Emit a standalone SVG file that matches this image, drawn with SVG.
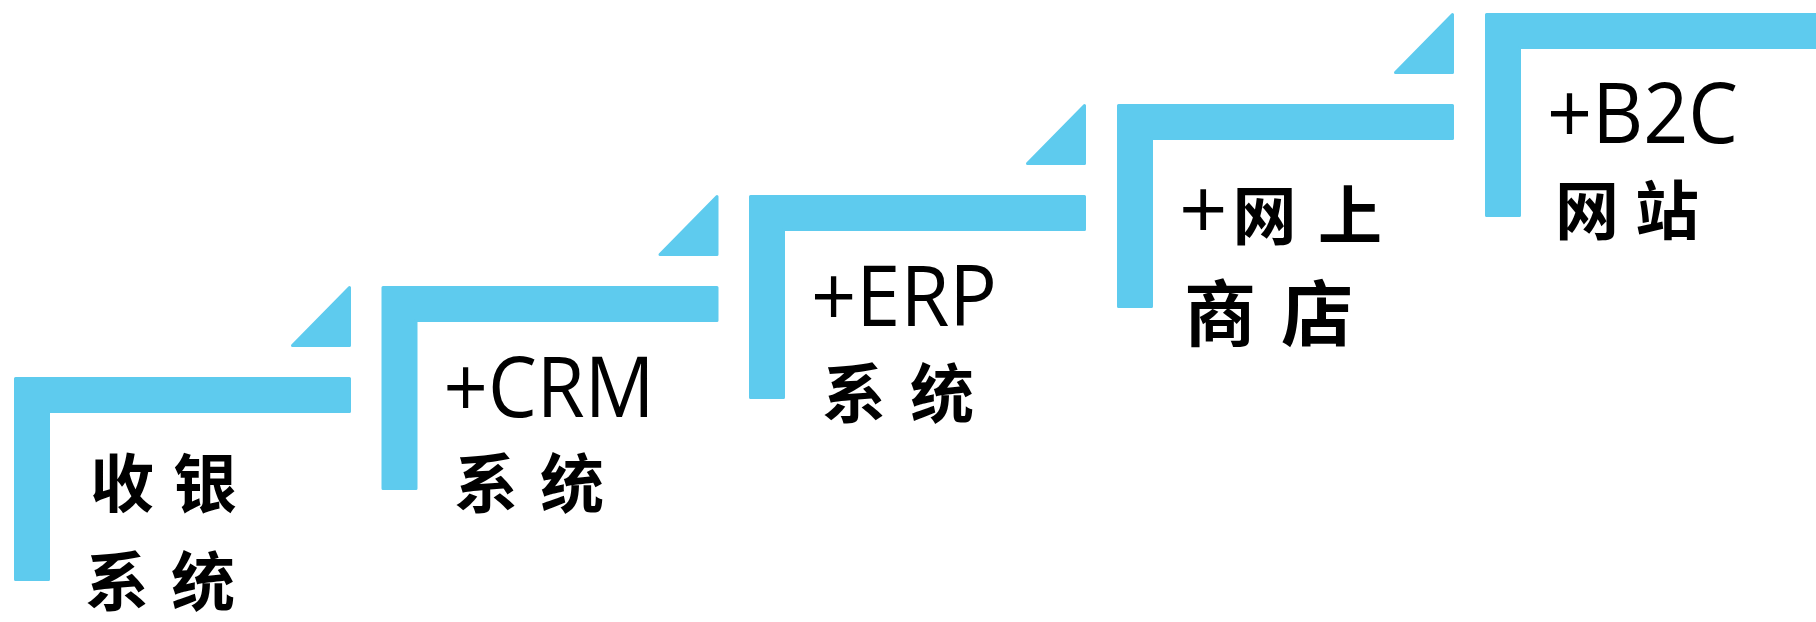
<svg xmlns="http://www.w3.org/2000/svg" width="1816" height="622" viewBox="0 0 1816 622">
  <style>
    .bar { fill: #5ECBEE; stroke: #5ECBEE; stroke-width: 3; stroke-linejoin: round; }
    .lat { font-family: "Open Sans", "Noto Sans", "Liberation Sans", sans-serif; font-size: 85px; fill: #000; }
    .cjk { font-family: "Noto Sans CJK SC", "Noto Sans CJK TC", sans-serif; font-size: 64px; font-weight: 700; fill: #000; }
  </style>
  <defs>
    <path id="stair" d="M1.5,1.5 H335.5 V34.5 H34.5 V202.5 H1.5 Z"/>
    <path id="flag" d="M278.5,-31.5 L335.5,-89.5 V-31.5 Z"/>
  </defs>
  <rect width="1816" height="622" fill="#ffffff"/>
  <g id="connectors"/>

  <g id="step1" transform="translate(14,377)">
    <use href="#stair" class="bar"/>
    <use href="#flag" class="bar"/>
    <text class="cjk" x="76 159" y="130">收银</text>
    <text class="cjk" x="71 157" y="228">系统</text>
  </g>

  <g id="step2" transform="translate(381.5,286)">
    <use href="#stair" class="bar"/>
    <use href="#flag" class="bar"/>
    <text class="lat" x="62" y="131" textLength="211" lengthAdjust="spacingAndGlyphs">+CRM</text>
    <text class="cjk" x="72.5 158.5" y="221">系统</text>
  </g>

  <g id="step3" transform="translate(749,195)">
    <use href="#stair" class="bar"/>
    <use href="#flag" class="bar"/>
    <text class="lat" x="62" y="131" textLength="186" lengthAdjust="spacingAndGlyphs">+ERP</text>
    <text class="cjk" x="73 161" y="222">系统</text>
  </g>

  <g id="step4" transform="translate(1117,104)">
    <use href="#stair" class="bar"/>
    <use href="#flag" class="bar"/>
    <text class="lat" x="62 115.5 201" y="135"><tspan>+</tspan><tspan class="cjk" style="font-size:64px">网上</tspan></text>
    <text class="cjk" x="67 164" y="236" style="font-size:72px">商店</text>
  </g>

  <g id="step5" transform="translate(1485,13)">
    <use href="#stair" class="bar"/>
    <text class="lat" x="62" y="130" textLength="191" lengthAdjust="spacingAndGlyphs">+B2C</text>
    <text class="cjk" x="70 150" y="221">网站</text>
  </g>
</svg>
